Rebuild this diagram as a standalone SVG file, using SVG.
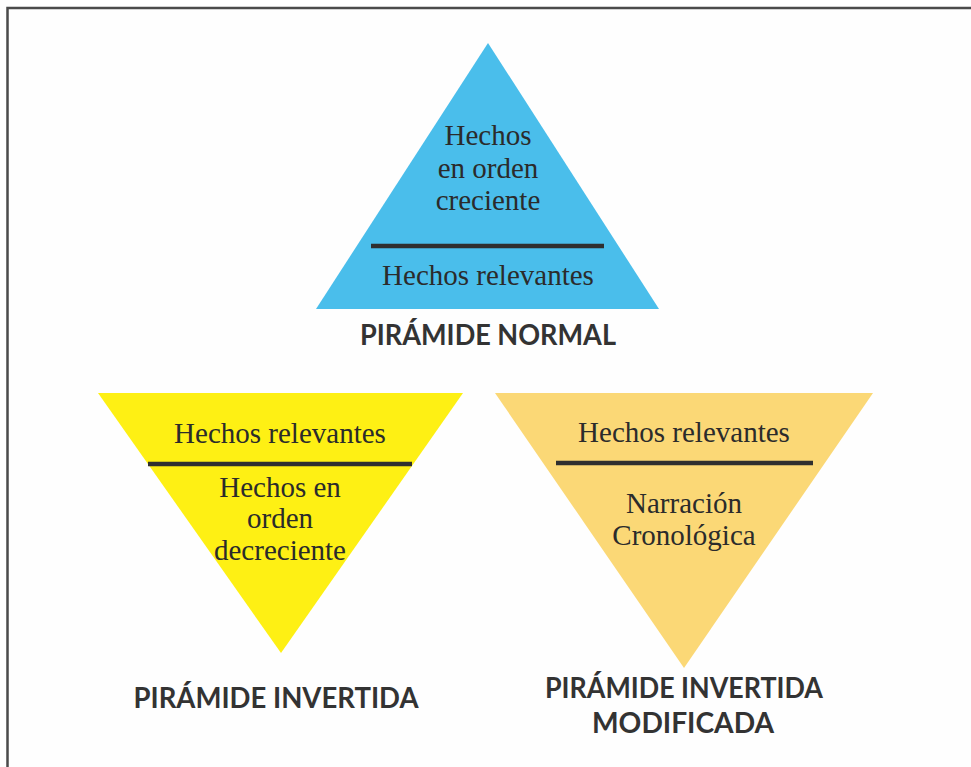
<svg xmlns="http://www.w3.org/2000/svg" width="971" height="767" viewBox="0 0 971 767">
<style>
.body{font-family:"Liberation Serif","Times New Roman",serif;font-size:29px;fill:#2b2b2b;text-anchor:middle}
.title{font-family:"Lato","Liberation Sans",sans-serif;font-weight:700;font-size:29px;fill:#333333;text-anchor:middle}
.div{stroke:#2f2f2f;stroke-width:4.5}
</style>
<rect x="0" y="0" width="971" height="767" fill="#fefefe"/>
<path d="M7.5 767 V8 H971" fill="none" stroke="#4a4a4a" stroke-width="2.5"/>
<g id="piramide-normal">
<polygon points="488,43 316,309 659,309" fill="#4ABEEB"/>
<line class="div" x1="371" y1="246" x2="604" y2="246"/>
<text class="body" x="488" y="145">Hechos</text>
<text class="body" x="488" y="178">en orden</text>
<text class="body" x="488" y="210">creciente</text>
<text class="body" x="488" y="285">Hechos relevantes</text>
<text class="title" x="488" y="345" textLength="256" lengthAdjust="spacingAndGlyphs">PIRÁMIDE NORMAL</text>
</g>
<g id="piramide-invertida">
<polygon points="98,393 463,393 281,653" fill="#FEF014"/>
<line class="div" x1="148" y1="464" x2="412" y2="464"/>
<text class="body" x="280" y="443">Hechos relevantes</text>
<text class="body" x="280" y="497">Hechos en</text>
<text class="body" x="280" y="528">orden</text>
<text class="body" x="280" y="560">decreciente</text>
<text class="title" x="276" y="708" textLength="285" lengthAdjust="spacingAndGlyphs">PIRÁMIDE INVERTIDA</text>
</g>
<g id="piramide-invertida-modificada">
<polygon points="495,393 873,393 684,668" fill="#FBD876"/>
<line class="div" x1="556" y1="463" x2="813" y2="463"/>
<text class="body" x="684" y="442">Hechos relevantes</text>
<text class="body" x="684" y="513">Narración</text>
<text class="body" x="684" y="545">Cronológica</text>
<text class="title" x="684" y="698" textLength="278" lengthAdjust="spacingAndGlyphs">PIRÁMIDE INVERTIDA</text>
<text class="title" x="683" y="733" textLength="182" lengthAdjust="spacingAndGlyphs">MODIFICADA</text>
</g>
<g id="connectors"/>
</svg>
